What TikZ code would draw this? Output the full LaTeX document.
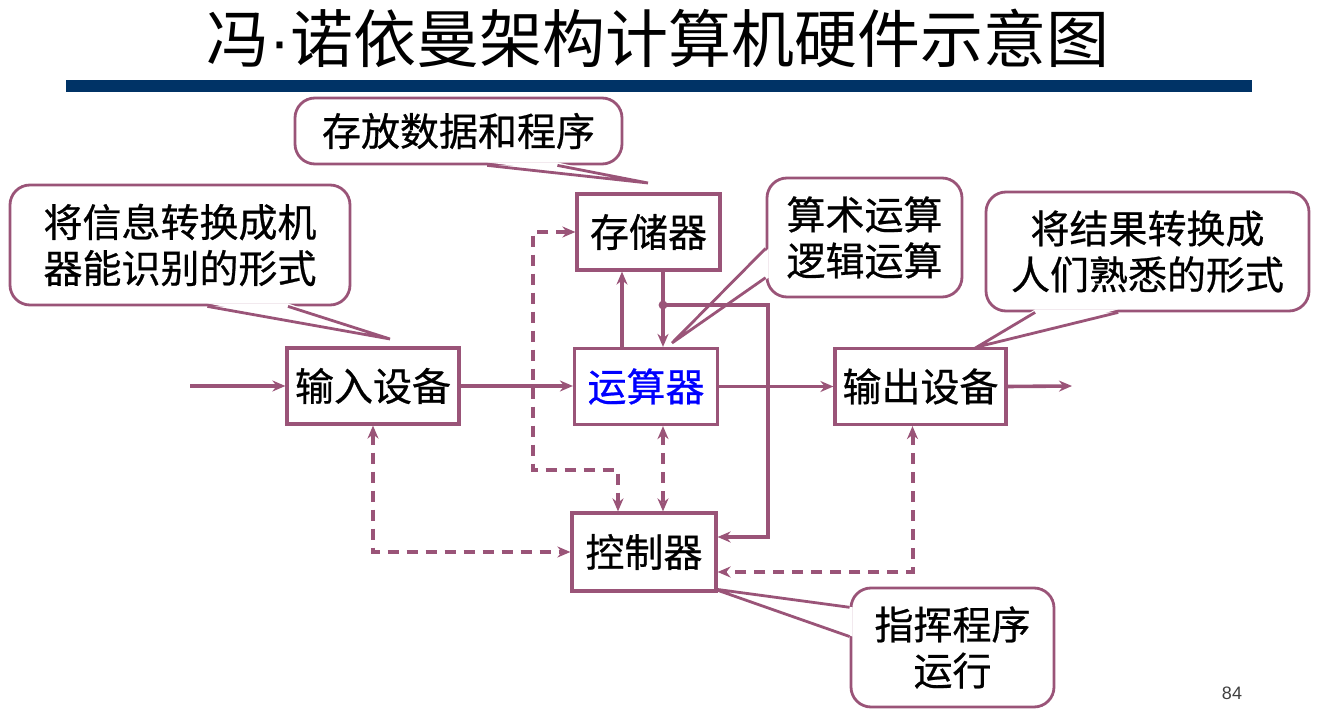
\documentclass[tikz,border=0pt]{standalone}
\usepackage{fontspec}
\usepackage{xcolor}
\usetikzlibrary{arrows.meta,calc}
\newfontfamily\cjk[FakeBold=0.6]{Noto Sans CJK SC}
\newfontfamily\titlecjk{Noto Sans CJK SC}
\newfontfamily\pagefont{Liberation Sans}
\definecolor{slidemauve}{HTML}{9A5478}
\definecolor{slidenavy}{HTML}{003366}
\definecolor{slideblue}{HTML}{0000FF}

\begin{document}
\begin{tikzpicture}[x=0.5pt, y=-0.5pt, >={Stealth[length=6.5pt,width=5.5pt]},
                    every node/.style={font=\cjk\fontsize{19.5}{23}\selectfont, inner sep=0pt},
                    hwbox/.style={draw=slidemauve, line width=1.6pt, fill=white, minimum height=38pt},
                    tipnote/.style={draw=slidemauve, line width=1.4pt, fill=white,
                                    rounded corners=10pt, align=center},
                    notewedge/.style={draw=slidemauve, line width=1.4pt},
                    flow/.style={slidemauve, line width=1.8pt, ->},
                    dflow/.style={slidemauve, line width=2pt, dash pattern=on 5.5pt off 4pt, <->}]

  \useasboundingbox (0,0) rectangle (1324,716);

  %% 标题与横条
  \node[font=\titlecjk\fontsize{31.5}{34}\selectfont] (title) at (658,38)
    {冯{\pagefont ·}诺依曼架构计算机硬件示意图};
  \fill[slidenavy] (66,80) rectangle (1252,92);

  %% 说明框
  \node[tipnote, minimum width=170pt, minimum height=60pt] (note_in) at (180,245)
    {将信息转换成机\\器能识别的形式};
  \node[tipnote, minimum width=163.5pt, minimum height=33pt] (note_mem) at (458.5,131)
    {存放数据和程序};
  \node[tipnote, minimum width=97.5pt, minimum height=59.5pt] (note_alu) at (864.5,237.5)
    {算术运算\\逻辑运算};
  \node[tipnote, minimum width=161.5pt, minimum height=59.5pt] (note_out) at (1147.5,251.5)
    {将结果转换成\\人们熟悉的形式};
  \node[tipnote, minimum width=101.5pt, minimum height=59.5pt] (note_ctrl) at (952.5,647.5)
    {指挥程序\\运行};

  %% 说明框的尖角
  \coordinate (inA) at ($(note_in.south west)!0.58!(note_in.south east)$);
  \coordinate (inB) at ($(note_in.south west)!0.815!(note_in.south east)$);
  \coordinate (inT) at (390,339);
  \fill[white] ($(inA)+(0,-3)$) -- (inT) -- ($(inB)+(0,-3)$) -- cycle;
  \draw[notewedge] (inA) -- (inT) -- (inB);

  \coordinate (memA) at ($(note_mem.south west)!0.587!(note_mem.south east)$);
  \coordinate (memB) at ($(note_mem.south west)!0.80!(note_mem.south east)$);
  \coordinate (memT) at (648,183);
  \fill[white] ($(memA)+(0,-3)$) -- (memT) -- ($(memB)+(0,-3)$) -- cycle;
  \draw[notewedge] (memA) -- (memT) -- (memB);

  \coordinate (aluA) at ($(note_alu.north west)!0.59!(note_alu.south west)$);
  \coordinate (aluB) at ($(note_alu.north west)!0.83!(note_alu.south west)$);
  \coordinate (aluT) at (672,343);
  \fill[white] ($(aluA)+(3,0)$) -- (aluT) -- ($(aluB)+(3,0)$) -- cycle;
  \draw[notewedge] (aluA) -- (aluT) -- (aluB);

  \coordinate (outA) at ($(note_out.south west)!0.155!(note_out.south east)$);
  \coordinate (outB) at ($(note_out.south west)!0.41!(note_out.south east)$);
  \coordinate (outT) at (977,347);
  \fill[white] ($(outA)+(0,-3)$) -- (outT) -- ($(outB)+(0,-3)$) -- cycle;
  \draw[notewedge] (outA) -- (outT) -- (outB);

  \coordinate (ctrlA) at ($(note_ctrl.north west)!0.17!(note_ctrl.south west)$);
  \coordinate (ctrlB) at ($(note_ctrl.north west)!0.41!(note_ctrl.south west)$);
  \coordinate (ctrlT) at (714,589);
  \fill[white] ($(ctrlA)+(3,0)$) -- (ctrlT) -- ($(ctrlB)+(3,0)$) -- cycle;
  \draw[notewedge] (ctrlA) -- (ctrlT) -- (ctrlB);

  %% 五大部件
  \node[hwbox, minimum width=71.5pt] (mem) at (648.5,232) {存储器};
  \node[hwbox, minimum width=71.5pt, text=slideblue] (alu) at (646,386.5) {运算器};
  \node[hwbox, minimum width=72pt, minimum height=39pt] (ctrl) at (644,552) {控制器};
  \node[hwbox, minimum width=86pt] (in) at (373,386) {输入设备};
  \node[hwbox, minimum width=85.5pt] (out) at (920.5,386.5) {输出设备};

  %% 数据流（实线）
  \coordinate (src) at (190,386);
  \coordinate (sink) at (1072,386);
  \coordinate (dot) at (663,305);
  \coordinate (bus) at (768,305);

  \draw[flow] (src) -- (in.west);
  \draw[flow] (in.east) -- (in.east -| alu.west);
  \draw[flow] (alu.east) -- (alu.east -| out.west);
  \draw[flow] (out.east) -- (sink);
  \draw[flow] ([xshift=-12pt]alu.north) -- ([xshift=-12pt]alu.north |- mem.south);
  \draw[flow] (dot |- mem.south) -- (dot |- alu.north);
  \draw[flow] (dot) -- (bus) |- ([yshift=7.5pt]ctrl.east);
  \fill[slidemauve] (dot) circle (2.2pt);

  %% 控制流（虚线）
  \coordinate (loop) at (533,470);
  \draw[dflow] (mem.west) -| (loop) -| ([xshift=-13pt]ctrl.north);
  \draw[dflow] (dot |- alu.south) -- (dot |- ctrl.north);
  \draw[dflow] (in.south) |- (ctrl.west);
  \draw[dflow] ([xshift=-4pt]out.south) |- ([yshift=-10pt]ctrl.east);

  %% 页码
  \node[font=\pagefont\fontsize{9}{9}\selectfont, text=black!75] (page) at (1232,693) {84};

\end{tikzpicture}
\end{document}
